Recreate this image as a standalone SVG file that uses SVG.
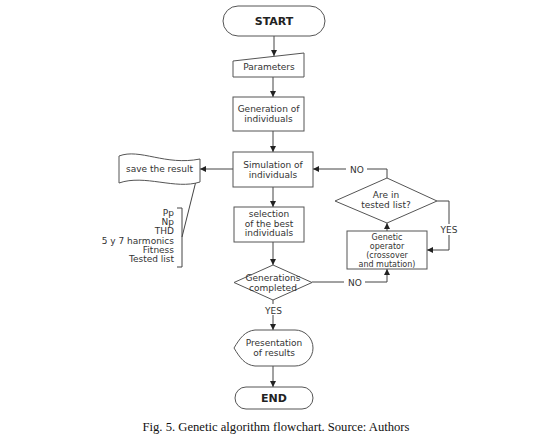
<svg xmlns="http://www.w3.org/2000/svg" width="550" height="438" viewBox="0 0 550 438">
<defs>
<marker id="ah" viewBox="0 0 8 8" refX="8" refY="4" markerWidth="6" markerHeight="6" orient="auto" markerUnits="userSpaceOnUse">
<path d="M0 0 L8 4 L0 8 Z" fill="#222"/>
</marker>
<style>
.s{fill:#fff;stroke:#555;stroke-width:1}
.c{fill:none;stroke:#444;stroke-width:1}
.t{font-family:"DejaVu Sans",Verdana,sans-serif;font-size:9px;fill:#333;text-anchor:middle}
.g{font-size:8px}
.b{font-family:"DejaVu Sans",Verdana,sans-serif;font-size:11px;fill:#222;text-anchor:middle;font-weight:bold}
.r{text-anchor:end}
.lbl{fill:#fff}
</style>
</defs>
<rect width="550" height="438" fill="#fff"/>
<g id="connectors">
<path class="c" d="M274 36 V56" marker-end="url(#ah)"/>
<path class="c" d="M273 77 V97" marker-end="url(#ah)"/>
<path class="c" d="M273 131 V152" marker-end="url(#ah)"/>
<path class="c" d="M273 187 V207" marker-end="url(#ah)"/>
<path class="c" d="M273 242 V265" marker-end="url(#ah)"/>
<path class="c" d="M273 300 V330" marker-end="url(#ah)"/>
<path class="c" d="M273 366 V387" marker-end="url(#ah)"/>
<path class="c" d="M233 169 H200" marker-end="url(#ah)"/>
<path class="c" d="M182 237 L199 169"/>
<path class="c" d="M312 282 H387 V269" marker-end="url(#ah)"/>
<path class="c" d="M387 231 V223" marker-end="url(#ah)"/>
<path class="c" d="M387 178 V169 H313" marker-end="url(#ah)"/>
<path class="c" d="M437 201 H449 V250 H427" marker-end="url(#ah)"/>
<rect class="lbl" x="263" y="304" width="21" height="11"/>
<text class="t" x="273.5" y="314">YES</text>
<rect class="lbl" x="346" y="164" width="21" height="11"/>
<text class="t" x="357" y="172.5">NO</text>
<rect class="lbl" x="344" y="277" width="21" height="11"/>
<text class="t" x="355" y="285.5">NO</text>
<rect class="lbl" x="438" y="224" width="22" height="11"/>
<text class="t" x="449" y="233">YES</text>
</g>
<g id="start">
<rect class="s" x="223" y="6" width="102" height="30" rx="15"/>
<text class="b" x="274" y="25">START</text>
</g>
<g id="parameters">
<path class="s" d="M233 61 L304 53 V77 H233 Z"/>
<text class="t" x="269" y="70">Parameters</text>
</g>
<g id="generation">
<rect class="s" x="233" y="97" width="71" height="34"/>
<text class="t" x="268.5" y="112">Generation of</text>
<text class="t" x="268.5" y="122">individuals</text>
</g>
<g id="simulation">
<rect class="s" x="233" y="152" width="80" height="35"/>
<text class="t" x="273" y="168">Simulation of</text>
<text class="t" x="273" y="178">individuals</text>
</g>
<g id="selection">
<rect class="s" x="234" y="207" width="70" height="35"/>
<text class="t" x="269" y="217">selection</text>
<text class="t" x="269" y="227">of the best</text>
<text class="t" x="269" y="236">individuals</text>
</g>
<g id="generations-completed">
<path class="s" d="M273 265 L312 282.5 L273 300 L234 282.5 Z"/>
<text class="t" x="273" y="281">Generations</text>
<text class="t" x="273" y="291">completed</text>
</g>
<g id="presentation">
<path class="s" d="M234 348 C240 338 245 331 255 330 H295 A18 18 0 0 1 295 366 H255 C245 365 240 358 234 348 Z"/>
<text class="t" x="274" y="346">Presentation</text>
<text class="t" x="274" y="356">of results</text>
</g>
<g id="end">
<rect class="s" x="235" y="387" width="78" height="22" rx="11"/>
<text class="b" x="274" y="402">END</text>
</g>
<g id="save">
<path class="s" d="M119 156 C140 148 165 166 200 159 V182 C175 190 145 174 119 183 Z"/>
<text class="t" x="159.5" y="172">save the result</text>
</g>
<g id="annotation">
<path class="c" d="M177 208 H182 V267 H177"/>
<text class="t r" x="174" y="216">Pp</text>
<text class="t r" x="174" y="225">Np</text>
<text class="t r" x="174" y="234">THD</text>
<text class="t r" x="174" y="244">5 y 7 harmonics</text>
<text class="t r" x="174" y="253">Fitness</text>
<text class="t r" x="174" y="262">Tested list</text>
</g>
<g id="tested-list">
<path class="s" d="M387 178 L437 201 L387 223 L335 201 Z"/>
<text class="t" x="386" y="198">Are in</text>
<text class="t" x="386" y="208">tested list?</text>
</g>
<g id="genetic-operator">
<rect class="s" x="347" y="231" width="80" height="38"/>
<text class="t g" x="387" y="239.5">Genetic</text>
<text class="t g" x="387" y="248.5">operator</text>
<text class="t g" x="387" y="257.5">(crossover</text>
<text class="t g" x="387" y="266.5">and mutation)</text>
</g>
<text x="276" y="431" font-family="Liberation Serif, serif" font-size="13" fill="#111" text-anchor="middle" textLength="267" lengthAdjust="spacingAndGlyphs">Fig. 5. Genetic algorithm flowchart. Source: Authors</text>
</svg>
